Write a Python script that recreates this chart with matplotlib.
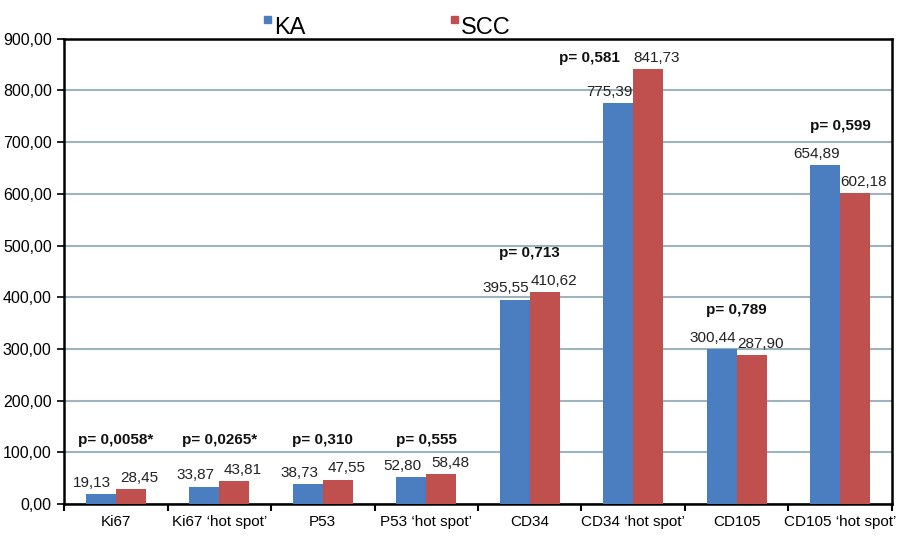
import numpy as np
import matplotlib.pyplot as plt
from matplotlib.patches import Rectangle

plt.rcParams['font.family'] = ['Liberation Sans', 'DejaVu Sans']

categories = ["Ki67", "Ki67 \u2018hot spot\u2019", "P53", "P53 \u2018hot spot\u2019",
              "CD34", "CD34 \u2018hot spot\u2019", "CD105", "CD105 \u2018hot spot\u2019"]
ka = [19.13, 33.87, 38.73, 52.80, 395.55, 775.39, 300.44, 654.89]
scc = [28.45, 43.81, 47.55, 58.48, 410.62, 841.73, 287.90, 602.18]
p_labels = ["p= 0,0058*", "p= 0,0265*", "p= 0,310", "p= 0,555",
            "p= 0,713", "p= 0,581", "p= 0,789", "p= 0,599"]
series_names = ["KA", "SCC"]

blue = "#4A7EC1"
red = "#C0504D"

def fmt(v):
    return f"{v:.2f}".replace(".", ",")

fig = plt.figure(figsize=(9.1, 5.38), dpi=100)
ax = fig.add_axes([0.0705, 0.063, 0.9095, 0.865])

x = np.arange(len(categories))
w = 0.29
b1 = ax.bar(x - w / 2, ka, w, color=blue, zorder=3)
b2 = ax.bar(x + w / 2, scc, w, color=red, zorder=3)

for i in range(len(categories)):
    ax.text(x[i] - w / 2 - 0.085, ka[i] + 8, fmt(ka[i]), ha="center", va="bottom",
            fontsize=11, color="#222222", zorder=4)
    ax.text(x[i] + w / 2 + 0.085, scc[i] + 8, fmt(scc[i]), ha="center", va="bottom",
            fontsize=11, color="#222222", zorder=4)
    top = max(ka[i], scc[i])
    if top < 100:
        py, px = 110, x[i]
    elif i == 5:
        py, px = scc[i] + 8, x[i] - 0.42
    else:
        py, px = top + 62, x[i]
    ax.text(px, py, p_labels[i], ha="center", va="bottom", fontsize=11,
            fontweight="bold", color="#111111", zorder=4)

ax.set_xlim(-0.5, len(categories) - 0.5)
ax.set_ylim(0, 900)
ax.set_yticks(np.arange(0, 901, 100))
ax.set_yticklabels([fmt(v) for v in np.arange(0, 901, 100)], fontsize=11.5)
ax.set_xticks(x)
ax.set_xticklabels(categories, fontsize=11)
ax.tick_params(axis="x", length=0, pad=8)
ax.set_xticks(np.arange(-0.5, len(categories)), minor=True)
ax.tick_params(axis="x", which="minor", length=5, width=1.5, direction="out")
ax.tick_params(axis="y", length=5, width=1.2, direction="out", pad=4)
ax.yaxis.grid(True, color="#9DB3BE", linewidth=1.5, zorder=0)
ax.set_axisbelow(True)
for s in ax.spines.values():
    s.set_linewidth(1.8)
    s.set_color("black")

# legend drawn at the top, small squares raised like superscripts
for name, col, lx in zip(series_names, [blue, red], [0.29, 0.496]):
    fig.patches.append(Rectangle((lx, 0.958), 0.0075, 0.013, transform=fig.transFigure,
                                 color=col))
    fig.text(lx + 0.011, 0.948, name, fontsize=17, va="center", ha="left")

fig.savefig("out.png", dpi=100)
